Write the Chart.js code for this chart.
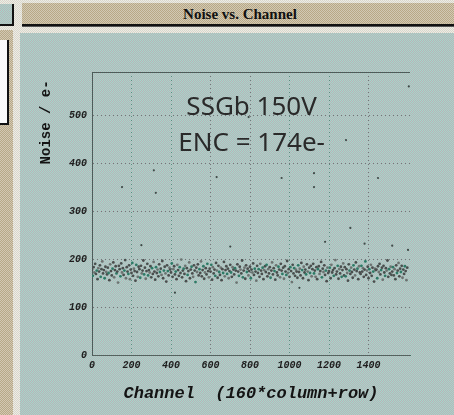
<!DOCTYPE html>
<html>
<head>
<meta charset="utf-8">
<title>Noise vs. Channel</title>
<script src="https://cdn.jsdelivr.net/npm/chart.js@4/dist/chart.umd.min.js"></script>
<style>
    html, body { margin: 0; padding: 0; }
    body {
        width: 454px; height: 415px; position: relative; overflow: hidden;
        background: repeating-conic-gradient(#eeece4 0 25%, #d8d6cc 0 50%) 0 0 / 2px 2px;
    }
    .tan { background: repeating-conic-gradient(#b8a886 0 25%, #d2c9b4 0 50%) 0 0 / 2px 2px; }
    .teal { background: repeating-conic-gradient(#a6d6cb 0 25%, #b8b4b8 0 50%) 0 0 / 2px 2px; }
    #tealBox { position: absolute; left: 0; top: 4px; width: 12px; height: 20px; border-right: 2px solid #111; border-bottom: 2px solid #111; }
    #titleBar {
        position: absolute; left: 22px; top: 3px; width: 432px; height: 21px;
        border-bottom: 2px solid #111; box-shadow: 0 1px 0 #555;
        font: bold 15px "Liberation Serif", serif; color: #111;
        text-align: center; line-height: 22px;
    }
    #titleBar span { position: relative; left: 2px; }
    #leftStrip { position: absolute; left: 0; top: 30px; width: 13px; height: 385px; }
    #whiteBox { position: absolute; left: 0; top: 40px; width: 7px; height: 83px; background: #fafafa; border-right: 2px solid #111; border-bottom: 2px solid #111; }
    #panel { position: absolute; left: 20px; top: 33px; width: 434px; height: 382px; }
    #chart { position: absolute; left: 0; top: 0; }
</style>
</head>
<body>
<div id="tealBox" class="teal"></div>
<div id="titleBar" class="tan"><span>Noise vs. Channel</span></div>
<div id="leftStrip" class="tan"></div>
<div id="whiteBox"></div>
<div id="panel" class="teal"></div>
<canvas id="chart" width="454" height="415"></canvas>

<script>
/* ===== Data ===== */

// noise (e-), one value every 4 channels starting at channel 0
var channelStep = 4;
var noiseValues = [
    178,165,183,172,190,169,176,158,181,174,187,163,179,195,170,177,160,184,173,168,
    182,171,156,189,175,166,180,193,162,177,185,170,174,151,186,179,164,191,172,181,
    167,176,198,160,183,174,169,187,158,178,171,192,165,180,175,155,188,173,163,184,
    179,161,186,170,176,197,168,182,159,175,190,166,177,172,185,162,181,169,194,174,
    157,183,171,178,164,189,173,180,167,196,160,176,184,170,153,187,175,166,182,178,
    172,191,163,179,185,168,174,158,188,177,165,183,171,199,162,176,180,169,186,154,
    181,167,175,193,160,178,184,170,163,187,176,152,182,173,189,166,179,171,195,164,
    177,185,159,172,181,168,190,175,162,180,174,188,157,183,170,178,165,192,176,161,
    186,173,167,182,156,179,171,194,164,177,185,169,180,160,175,188,172,163,183,178,
    168,181,176,151,189,174,165,184,178,170,197,162,176,182,159,187,173,180,166,175,
    184,160,178,172,191,167,180,174,155,186,171,179,163,190,176,169,182,158,177,185,
    173,188,164,179,170,183,161,176,193,168,181,175,157,187,172,166,184,178,162,190,
    176,169,182,159,185,174,167,196,171,179,163,183,175,152,188,170,181,165,178,174,
    161,187,173,180,166,192,177,160,184,172,178,168,189,174,156,182,171,186,164,179,
    190,170,176,163,183,158,179,185,169,175,194,162,180,173,187,167,176,154,182,171,
    175,182,160,188,172,177,165,181,198,168,174,186,159,179,170,184,163,177,191,166,
    183,164,179,171,155,189,176,169,182,173,161,187,178,166,193,175,180,158,185,172,
    169,186,174,181,163,178,195,167,176,184,160,179,171,188,165,182,174,153,180,177,
    178,160,185,173,190,168,177,182,157,186,172,165,181,176,197,163,179,170,184,167,
    174,183,166,179,158,187,171,176,192,164,180,173,186,161,178,169,185,175,156,182
];

// isolated noisy channels away from the band
var noisyChannels = [152, 250, 313, 323, 420, 631, 700, 793, 960, 1050, 1124, 1124, 1180, 1286, 1308, 1380, 1448, 1520, 1600, 1604];
var noisyValues   = [350, 229, 385, 338, 130, 371, 226, 496, 369, 140, 379, 350, 236, 448, 265, 232, 369, 228, 219, 560];

var xTicks = [0, 200, 400, 600, 800, 1000, 1200, 1400];
var yTicks = [0, 100, 200, 300, 400, 500];

var annotationLines = ['SSGb 150V', 'ENC = 174e-'];
var annotationChannel = 808;
var annotationValues = [516, 440];

/* ===== Chart ===== */

var mainPoints = noiseValues.map(function(v, i) {
    return { x: i * channelStep, y: v };
});
var noisyPoints = noisyChannels.map(function(c, i) {
    return { x: c, y: noisyValues[i] };
});

function dotColor(ctx) {
    var k = ctx.dataIndex % 5;
    if (k === 1) return '#2f7a66';
    if (k === 3) return '#6d7472';
    return '#4a4f4e';
}

var framePlugin = {
    id: 'frame',
    afterDraw: function(chart) {
        var ctx = chart.ctx;
        var area = chart.chartArea;
        var x = chart.scales.x;
        var y = chart.scales.y;

        // solid top edge of the frame
        ctx.save();
        ctx.strokeStyle = '#4e5c5a';
        ctx.lineWidth = 1;
        ctx.beginPath();
        ctx.moveTo(area.left, area.top + 0.5);
        ctx.lineTo(area.right, area.top + 0.5);
        ctx.stroke();

        // annotation text
        ctx.fillStyle = '#2a2a2a';
        ctx.font = '26px "Noto Sans", sans-serif';
        ctx.textAlign = 'center';
        ctx.textBaseline = 'middle';
        annotationLines.forEach(function(line, i) {
            ctx.fillText(line, x.getPixelForValue(annotationChannel), y.getPixelForValue(annotationValues[i]));
        });
        ctx.restore();
    }
};

var tickFont = { family: '"Liberation Mono", monospace', size: 10, style: 'italic', weight: 'bold' };
function plainLabel(value) { return String(value); }

new Chart(document.getElementById('chart'), {
    type: 'scatter',
    data: {
        datasets: [
            {
                label: 'Noise',
                data: mainPoints,
                pointRadius: 1.4,
                pointBorderWidth: 0,
                pointBackgroundColor: dotColor,
            },
            {
                label: 'Noisy channels',
                data: noisyPoints,
                pointRadius: 1.1,
                pointBorderWidth: 0,
                pointBackgroundColor: '#3f4a48',
            },
        ],
    },
    options: {
        responsive: false,
        animation: false,
        devicePixelRatio: 1,
        layout: { padding: { left: 20, top: 72, right: 44, bottom: 0 } },
        plugins: {
            legend: { display: false },
            tooltip: { enabled: false },
        },
        scales: {
            x: {
                type: 'linear',
                min: 0,
                max: 1610,
                afterBuildTicks: function(scale) {
                    scale.ticks = xTicks.map(function(v) { return { value: v }; });
                },
                afterFit: function(scale) { scale.height = 60; },
                grid: { color: '#66807c', lineWidth: 1, drawTicks: false },
                border: { display: true, color: '#55625f', dash: [1, 3] },
                ticks: { color: '#1e1e1e', font: tickFont, padding: 4, maxRotation: 0, callback: plainLabel },
                title: {
                    display: true,
                    text: 'Channel  (160*column+row)',
                    color: '#141414',
                    font: { family: '"Liberation Mono", monospace', size: 17, style: 'italic', weight: 'bold' },
                    padding: { top: 0, bottom: 11 },
                },
            },
            y: {
                min: 0,
                max: 590,
                afterBuildTicks: function(scale) {
                    scale.ticks = yTicks.map(function(v) { return { value: v }; });
                },
                afterFit: function(scale) { scale.width = 72; },
                grid: { color: '#66807c', lineWidth: 1, drawTicks: false },
                border: { display: true, color: '#4e5c5a', dash: [1, 3] },
                ticks: { color: '#1e1e1e', font: tickFont, padding: 5, callback: plainLabel },
                title: {
                    display: true,
                    align: 'end',
                    text: 'Noise / e- ',
                    color: '#141414',
                    font: { family: '"Liberation Mono", monospace', size: 14, weight: 'bold' },
                    padding: { top: 18, bottom: 0 },
                },
            },
        },
    },
    plugins: [framePlugin],
});
</script>
</body>
</html>
